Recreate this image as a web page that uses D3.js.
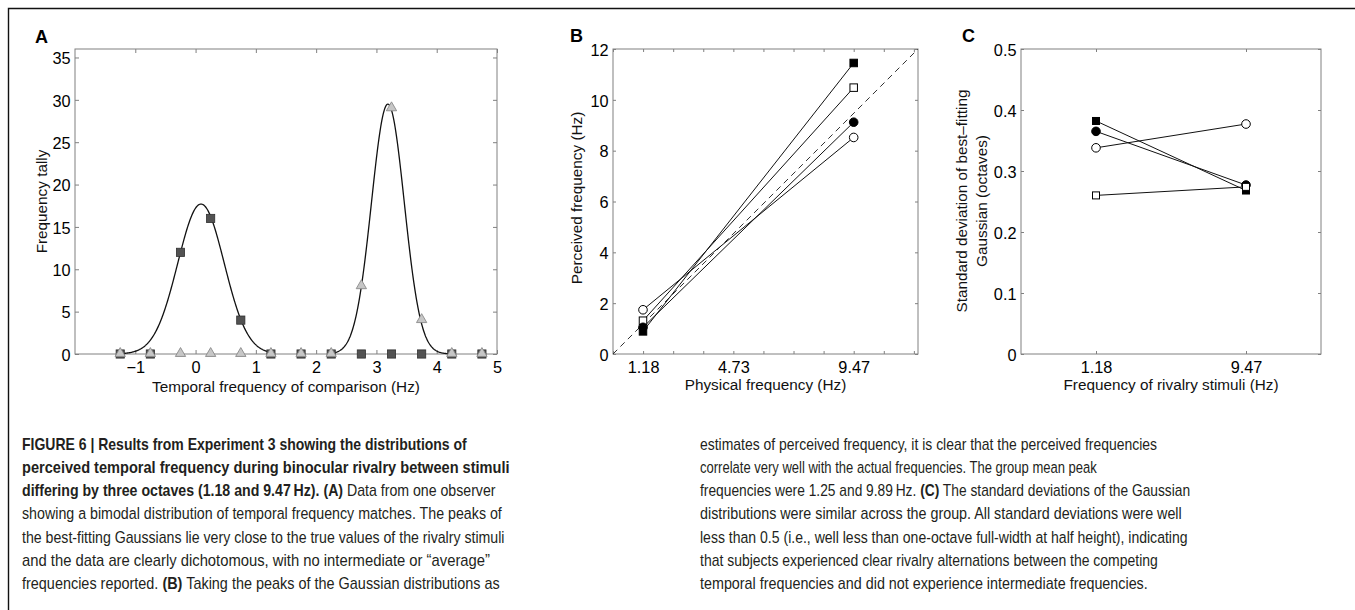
<!DOCTYPE html>
<html><head><meta charset="utf-8">
<script src="https://cdn.jsdelivr.net/npm/d3@7"></script>
<style>body{margin:0;background:#fff} svg{display:block}</style>
</head><body>
<svg id="c" width="1355" height="610"></svg>
<script>
// ---------------- DATA ----------------
// Panel A: tally of temporal-frequency matches (bin centres, Hz axis units)
const binCenters = [-1.25, -0.75, -0.25, 0.25, 0.75, 1.25, 1.75, 2.25, 2.75, 3.25, 3.75, 4.25, 4.75];
const tallyLowStim  = [0, 0, 12, 16, 4, 0, 0, 0, 0, 0, 0, 0, 0];   // dark squares
const tallyHighStim = [0, 0, 0, 0, 0, 0, 0, 0, 8, 29, 4, 0, 0];    // light triangles
// best-fitting Gaussians
const gaussAmp  = [17.7, 29.5];
const gaussMean = [0.09, 3.19];
const gaussSd   = [0.385, 0.272];
const gaussFrom = [-1.25, 2.25];
const gaussTo   = [1.25, 4.25];
const aXTicks = [-1, 0, 1, 2, 3, 4, 5];
const aYTicks = [0, 5, 10, 15, 20, 25, 30, 35];

// Panel B / C: four observers, two rivalry stimuli
const stimFreq = [1.18, 9.47];
const observers = ["filledSquare", "openSquare", "filledCircle", "openCircle"];
const perceivedFilledSquare = [0.89, 11.45];
const perceivedOpenSquare   = [1.31, 10.48];
const perceivedFilledCircle = [1.05, 9.12];
const perceivedOpenCircle   = [1.74, 8.52];
const bXTickLabels = ["1.18", "4.73", "9.47"];
const bXTickValues = [1.18, 4.73, 9.47];
const octaveStep = 1.18375;
const bYTicks = [0, 2, 4, 6, 8, 10, 12];

const sdFilledSquare = [0.382, 0.268];
const sdOpenSquare   = [0.260, 0.274];
const sdFilledCircle = [0.365, 0.277];
const sdOpenCircle   = [0.338, 0.377];
const cXTickLabels = ["1.18", "9.47"];
const cYTicks = [0, 0.1, 0.2, 0.3, 0.4, 0.5];

// ---------------- DRAWING ----------------
const svg = d3.select("#c");
const FONT = "'Liberation Sans', Arial, Helvetica, sans-serif";
const AXIS = "#808080";
const FS = 15.3;      // axis titles
const TFS = 16.3;     // tick labels

// figure frame (top + left rules)
svg.append("path").attr("d", "M8.5,610V8.5H1355")
  .attr("fill", "none").attr("stroke", "#111").attr("stroke-width", 1.4);

function box(x, y, opt) {
  const g = svg.append("g").attr("font-family", FONT).attr("font-size", TFS);
  const [x0, x1] = x.range(), [y0, y1] = y.range();
  const tl = opt.tickLen;
  const ab = d3.axisBottom(x).tickValues(opt.xTicks).tickSize(-tl).tickSizeOuter(0)
    .tickFormat(opt.xFormat || (d => d));
  const gb = g.append("g").attr("transform", `translate(0,${y0})`).call(ab);
  gb.selectAll("text").attr("y", 19).attr("dy", null).attr("fill", "#000");
  g.append("g").attr("transform", `translate(0,${y1})`)
    .call(d3.axisTop(x).tickValues(opt.xTicksTop || opt.xTicks).tickSize(-tl).tickSizeOuter(0).tickFormat(""));
  const al = d3.axisLeft(y).tickValues(opt.yTicks).tickSize(-tl).tickSizeOuter(0)
    .tickFormat(opt.yFormat || (d => d));
  const gl = g.append("g").attr("transform", `translate(${x0},0)`).call(al);
  gl.selectAll("text").attr("x", -4.5).attr("dy", "0.38em").attr("fill", "#000");
  g.append("g").attr("transform", `translate(${x1},0)`)
    .call(d3.axisRight(y).tickValues(opt.yTicks).tickSize(-tl).tickSizeOuter(0).tickFormat(""));
  g.selectAll(".domain").remove();
  g.selectAll(".tick line").attr("stroke", AXIS).attr("stroke-width", 1);
  g.selectAll(".tick text").attr("font-family", FONT).attr("font-size", TFS);
  g.append("rect").attr("x", x0).attr("y", y1).attr("width", x1 - x0).attr("height", y0 - y1)
    .attr("fill", "none").attr("stroke", AXIS).attr("stroke-width", 1);
  return g;
}

function label(txt, x, y, rot, anchor) {
  const t = svg.append("text").attr("font-family", FONT).attr("font-size", FS)
    .attr("text-anchor", anchor || "middle").attr("fill", "#111").text(txt);
  if (rot) t.attr("transform", `translate(${x},${y}) rotate(-90)`);
  else t.attr("x", x).attr("y", y);
  return t;
}
function panelLetter(l, x, y) {
  svg.append("text").attr("x", x).attr("y", y).attr("font-family", FONT)
    .attr("font-weight", "bold").attr("font-size", 18).attr("fill", "#000").text(l);
}

// ---- Panel A ----
const xA = d3.scaleLinear([-2, 5], [75, 497]);
const yA = d3.scaleLinear([0, 36], [354, 49]);
box(xA, yA, { xTicks: aXTicks, xTicksTop: aXTicks, yTicks: aYTicks, tickLen: 4,
  xFormat: d => d < 0 ? "\u2212" + Math.abs(d) : d });
panelLetter("A", 35, 43);
label("Temporal frequency of comparison (Hz)", (75 + 497) / 2, 392);
label("Frequency tally", 46.5, (49 + 354) / 2, true);

const lineA = d3.line().x(d => xA(d[0])).y(d => yA(d[1]));
gaussAmp.forEach((a, i) => {
  const pts = d3.range(gaussFrom[i], gaussTo[i] + 1e-9, 0.01).map(x =>
    [x, a * Math.exp(-((x - gaussMean[i]) ** 2) / (2 * gaussSd[i] ** 2))]);
  svg.append("path").attr("d", lineA(pts)).attr("fill", "none")
    .attr("stroke", "#111").attr("stroke-width", 1.3);
});
const sqA = 8.2;
svg.append("g").selectAll("rect").data(binCenters).join("rect")
  .attr("x", (d) => xA(d) - sqA / 2)
  .attr("y", (d, i) => yA(tallyLowStim[i]) - sqA / 2)
  .attr("width", sqA).attr("height", sqA)
  .attr("fill", "#525252").attr("stroke", "#303030").attr("stroke-width", 0.8);
const tri = d3.symbol().type(d3.symbolTriangle).size(46);
svg.append("g").selectAll("path").data(binCenters).join("path")
  .attr("d", tri)
  .attr("transform", (d, i) => `translate(${xA(d)},${yA(tallyHighStim[i]) - 0.5})`)
  .attr("fill", "#c6c6c6").attr("stroke", "#8a8a8a").attr("stroke-width", 0.9);

// ---- markers for B / C ----
function marker(g, kind, cx, cy, sq, r) {
  const filled = kind.startsWith("filled");
  if (kind.endsWith("Square")) {
    g.append("rect").attr("x", cx - sq / 2).attr("y", cy - sq / 2).attr("width", sq).attr("height", sq)
      .attr("fill", filled ? "#000" : "#fff").attr("stroke", "#000").attr("stroke-width", 1);
  } else {
    g.append("circle").attr("cx", cx).attr("cy", cy).attr("r", r)
      .attr("fill", filled ? "#000" : "#fff").attr("stroke", "#000").attr("stroke-width", 1);
  }
}

// ---- Panel B ----
const xB = d3.scaleLinear([0, 12], [613, 918]);
const yB = d3.scaleLinear([0, 12], [354, 49]);
const octaveTicks = d3.range(0, 12, octaveStep);
box(xB, yB, { xTicks: octaveTicks, xTicksTop: octaveTicks, yTicks: bYTicks, tickLen: 3,
  xFormat: d => { const i = bXTickValues.findIndex(v => Math.abs(v - d) < 0.02); return i >= 0 ? bXTickLabels[i] : ""; } });
panelLetter("B", 570, 42);
label("Physical frequency (Hz)", (613 + 918) / 2, 390);
label("Perceived frequency (Hz)", 581.5, 198, true);
svg.append("line").attr("x1", xB(0)).attr("y1", yB(0)).attr("x2", xB(12)).attr("y2", yB(12))
  .attr("stroke", "#333").attr("stroke-width", 1).attr("stroke-dasharray", "6,4.5");
const perceived = [perceivedFilledSquare, perceivedOpenSquare, perceivedFilledCircle, perceivedOpenCircle];
const lineB = d3.line().x((d, i) => xB(stimFreq[i])).y(d => yB(d));
const gBm = svg.append("g");
perceived.forEach(s => gBm.append("path").attr("d", lineB(s)).attr("fill", "none").attr("stroke", "#111").attr("stroke-width", 1));
[3, 1, 2, 0].forEach(k => perceived[k].forEach((v, i) =>
  marker(gBm, observers[k], xB(stimFreq[i]), yB(v), 7.5, 4.3)));

// ---- Panel C ----
const xC = d3.scaleLinear([0.5, 2.5], [1021, 1321]);
const yC = d3.scaleLinear([0, 0.5], [354, 49]);
box(xC, yC, { xTicks: [1, 2], xTicksTop: [1, 2], yTicks: cYTicks, tickLen: 3,
  xFormat: d => cXTickLabels[d - 1], yFormat: d => d === 0 ? "0" : d3.format(".1f")(d) });
panelLetter("C", 962, 42);
label("Frequency of rivalry stimuli (Hz)", (1021 + 1321) / 2, 390);
label("Standard deviation of best\u2013fitting", 967, 201, true);
label("Gaussian (octaves)", 987, 201, true);
const sds = [sdFilledSquare, sdOpenSquare, sdFilledCircle, sdOpenCircle];
const lineC = d3.line().x((d, i) => xC(i + 1)).y(d => yC(d));
const gCm = svg.append("g");
sds.forEach(s => gCm.append("path").attr("d", lineC(s)).attr("fill", "none").attr("stroke", "#111").attr("stroke-width", 1));
[0, 2, 3, 1].forEach(k => sds[k].forEach((v, i) =>
  marker(gCm, observers[k], xC(i + 1), yC(v), 7, 4.3)));

// ---------------- CAPTION ----------------
const capLeft = [
  [[["FIGURE 6 | Results from Experiment 3 showing the distributions of", 1]], 467],
  [[["perceived temporal frequency during binocular rivalry between stimuli", 1]], 510],
  [[["differing by three octaves (1.18 and 9.47\u2009Hz). (A)", 1], [" Data from one observer", 0]], 496],
  [[["showing a bimodal distribution of temporal frequency matches. The peaks of", 0]], 502],
  [[["the best-fitting Gaussians lie very close to the true values of the rivalry stimuli", 0]], 505],
  [[["and the data are clearly dichotomous, with no intermediate or \u201caverage\u201d", 0]], 490],
  [[["frequencies reported. ", 0], ["(B)", 1], [" Taking the peaks of the Gaussian distributions as", 0]], 500]
];
const capRight = [
  [[["estimates of perceived frequency, it is clear that the perceived frequencies", 0]], 1157],
  [[["correlate very well with the actual frequencies. The group mean peak", 0]], 1097],
  [[["frequencies were 1.25 and 9.89\u2009Hz. ", 0], ["(C)", 1], [" The standard deviations of the Gaussian", 0]], 1190],
  [[["distributions were similar across the group. All standard deviations were well", 0]], 1182],
  [[["less than 0.5 (i.e., well less than one-octave full-width at half height), indicating", 0]], 1188],
  [[["that subjects experienced clear rivalry alternations between the competing", 0]], 1158],
  [[["temporal frequencies and did not experience intermediate frequencies.", 0]], 1148]
];
function caption(lines, x0) {
  lines.forEach(([segs, xEnd], i) => {
    const y = 450 + i * 23.15;
    const t = svg.append("text").attr("font-family", FONT).attr("font-size", 16.6)
      .attr("fill", "#231f20").attr("x", 0).attr("y", 0);
    segs.forEach(([s, b]) => t.append("tspan").attr("font-weight", b ? "bold" : "normal").text(s));
    const w = t.node().getComputedTextLength();
    t.attr("transform", `translate(${x0},${y}) scale(${(xEnd - x0) / w},1)`);
  });
}
caption(capLeft, 22);
caption(capRight, 700);
</script>
</body></html>
